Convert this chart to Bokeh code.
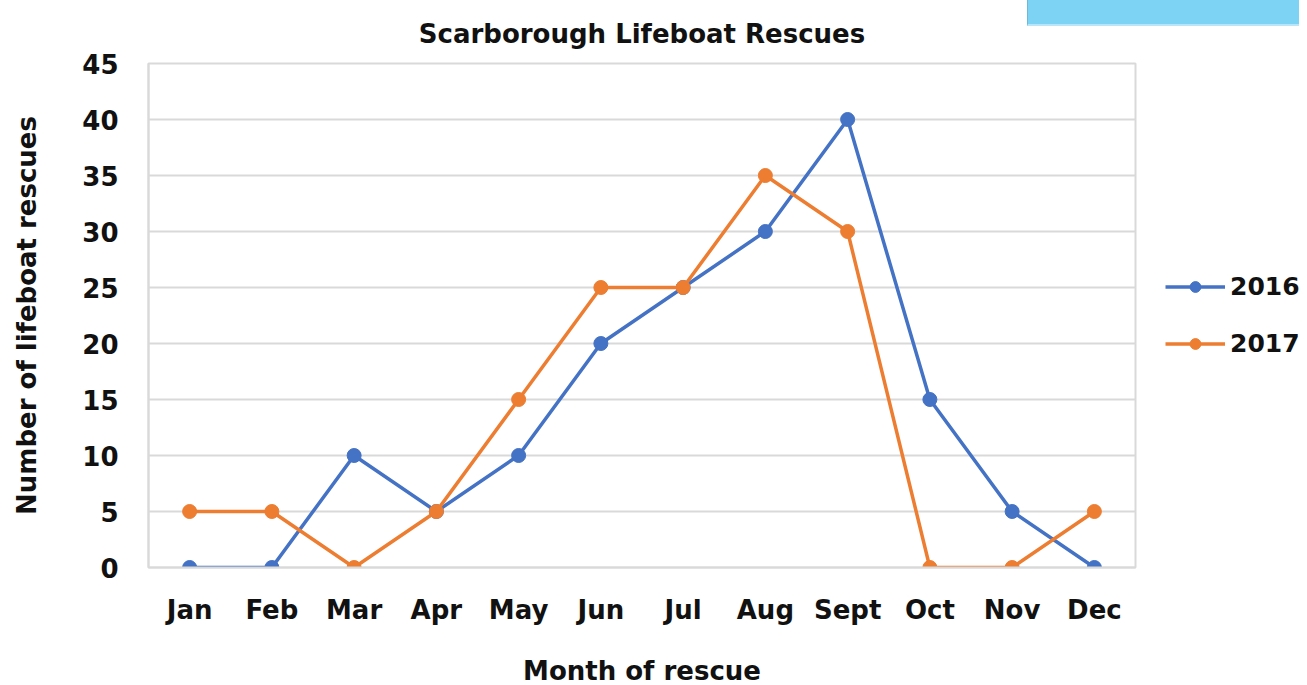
from bokeh.plotting import figure
from bokeh.layouts import column
from bokeh.models import (FactorRange, Range1d, FixedTicker, Legend, LegendItem,
                          Div)
from bokeh.embed import file_html
from bokeh.resources import INLINE

months = ["Jan", "Feb", "Mar", "Apr", "May", "Jun", "Jul", "Aug", "Sept", "Oct", "Nov", "Dec"]
rescues_2016 = [0, 0, 10, 5, 10, 20, 25, 30, 40, 15, 5, 0]
rescues_2017 = [5, 5, 0, 5, 15, 25, 25, 35, 30, 0, 0, 5]
y_ticks = [0, 5, 10, 15, 20, 25, 30, 35, 40, 45]

FONT = "DejaVu Sans"
TXT = "#111111"
GRID = "#d9d9d9"

p = figure(x_range=FactorRange(*months), y_range=Range1d(0, 45),
           frame_width=987, frame_height=504,
           min_border_left=148, min_border_top=63, min_border_bottom=116,
           min_border_right=4,
           output_backend="svg", toolbar_location=None,
           title="Scarborough Lifeboat Rescues")

p.title.align = "center"
p.title.text_font = FONT
p.title.text_font_size = "26px"
p.title.text_font_style = "bold"
p.title.text_color = TXT
p.title.offset = -4
p.title.standoff = 30

p.outline_line_color = GRID
p.outline_line_width = 2
p.xgrid.grid_line_color = None
p.ygrid.grid_line_color = GRID
p.ygrid.grid_line_width = 2
p.yaxis.ticker = FixedTicker(ticks=y_ticks)

for ax in (p.xaxis[0], p.yaxis[0]):
    ax.axis_line_color = GRID
    ax.axis_line_width = 2
    ax.major_tick_line_color = None
    ax.minor_tick_line_color = None
    ax.major_label_text_font = FONT
    ax.major_label_text_font_size = "26px"
    ax.major_label_text_font_style = "bold"
    ax.major_label_text_color = TXT
    ax.axis_label_text_font = FONT
    ax.axis_label_text_font_size = "26px"
    ax.axis_label_text_font_style = "bold"
    ax.axis_label_text_color = TXT

p.xaxis.axis_label = "Month of rescue"
p.xaxis.major_label_standoff = 21
p.xaxis.axis_label_standoff = 28
p.yaxis.axis_label = "Number of lifeboat rescues"
p.yaxis.major_label_standoff = 24
p.yaxis.axis_label_standoff = 37

BLUE = "#4472C4"
ORANGE = "#ED7D31"

l1 = p.line(months, rescues_2016, line_color=BLUE, line_width=3.5)
c1 = p.scatter(months, rescues_2016, size=14, fill_color=BLUE, line_color=BLUE)
l2 = p.line(months, rescues_2017, line_color=ORANGE, line_width=3.5)
c2 = p.scatter(months, rescues_2017, size=14, fill_color=ORANGE, line_color=ORANGE)

legend = Legend(items=[LegendItem(label="2016", renderers=[l1, c1]),
                       LegendItem(label="2017", renderers=[l2, c2])],
                location="center_left", border_line_color=None,
                background_fill_alpha=0,
                label_text_font=FONT, label_text_font_size="25px",
                label_text_font_style="bold", label_text_color=TXT,
                glyph_width=60, glyph_height=27, spacing=28,
                label_standoff=5, padding=0, margin=30)
p.add_layout(legend, "right")

# light-blue strip at the top right of the reference image
strip = Div(text="", width=272, height=26, margin=0,
            styles={"position": "absolute", "left": "1027px", "top": "0px",
                    "background-color": "#7DD3F3",
                    "border-bottom": "2px solid #B8E6F8",
                    "border-left": "1px solid #6FB8D8",
                    "z-index": "10"})

layout = column(p, strip, spacing=0)

open("out.html", "w").write(file_html(layout, INLINE))
